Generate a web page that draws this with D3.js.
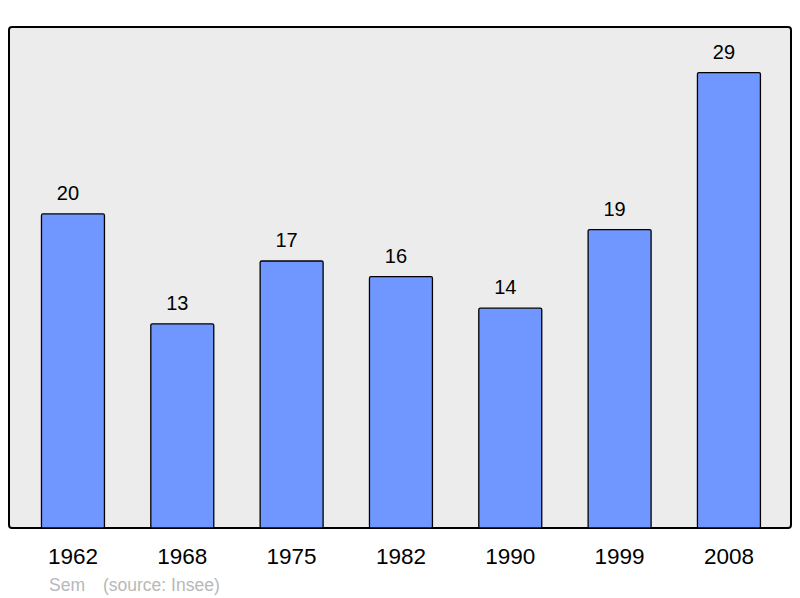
<!DOCTYPE html>
<html lang="fr">
<head>
  <meta charset="UTF-8">
  <title>Sem - population</title>
  <script src="https://d3js.org/d3.v7.min.js"></script>
  <style>
    body { margin: 0; background: #fff; }
    svg text { font-family: "Liberation Sans", Arial, sans-serif; }
  </style>
</head>
<body>
<div id="chart"></div>
<script>
  // données (Insee)
  const years = ["1962", "1968", "1975", "1982", "1990", "1999", "2008"];
  const population = [20, 13, 17, 16, 14, 19, 29];
  const commune = "Sem";
  const source = "(source: Insee)";

  const width = 800, height = 598;
  const frame = { left: 9, top: 27, right: 791, bottom: 528 };

  const svg = d3.select("#chart").append("svg")
    .attr("width", width)
    .attr("height", height);

  // cadre gris
  svg.append("rect")
    .attr("x", frame.left)
    .attr("y", frame.top)
    .attr("width", frame.right - frame.left)
    .attr("height", frame.bottom - frame.top)
    .attr("rx", 3)
    .attr("fill", "#ececec")
    .attr("stroke", "#000")
    .attr("stroke-width", 2);

  const x = d3.scaleBand()
    .domain(years)
    .range([18.3, 783.6])
    .paddingInner(0.424)
    .paddingOuter(0.212);

  const y = d3.scaleLinear()
    .domain([0, 31.9])
    .range([frame.bottom, frame.top]);

  // barres
  svg.selectAll(".bar")
    .data(population)
    .enter()
    .append("rect")
    .attr("class", "bar")
    .attr("x", (d, i) => x(years[i]))
    .attr("y", d => y(d))
    .attr("width", x.bandwidth())
    .attr("height", d => y(0) - y(d))
    .attr("rx", 1.5)
    .attr("fill", "#7097ff")
    .attr("stroke", "#000")
    .attr("stroke-width", 1.3);

  // valeurs au-dessus des barres (un peu décalées à gauche, comme l'original)
  svg.selectAll(".val")
    .data(population)
    .enter()
    .append("text")
    .attr("class", "val")
    .attr("x", (d, i) => x(years[i]) + x.bandwidth() / 2 - 5)
    .attr("y", d => y(d) - 14)
    .attr("text-anchor", "middle")
    .attr("font-size", 20)
    .attr("fill", "#000")
    .text(d => d);

  // années
  svg.selectAll(".year")
    .data(years)
    .enter()
    .append("text")
    .attr("class", "year")
    .attr("x", d => x(d) + x.bandwidth() / 2)
    .attr("y", 564)
    .attr("text-anchor", "middle")
    .attr("font-size", 22.5)
    .attr("fill", "#000")
    .text(d => d);

  // légende source
  svg.append("text")
    .attr("x", 49)
    .attr("y", 591)
    .attr("font-size", 17.5)
    .attr("fill", "#b8b8b8")
    .text(commune);

  svg.append("text")
    .attr("x", 103)
    .attr("y", 591)
    .attr("font-size", 17.5)
    .attr("fill", "#b8b8b8")
    .text(source);
</script>
</body>
</html>
